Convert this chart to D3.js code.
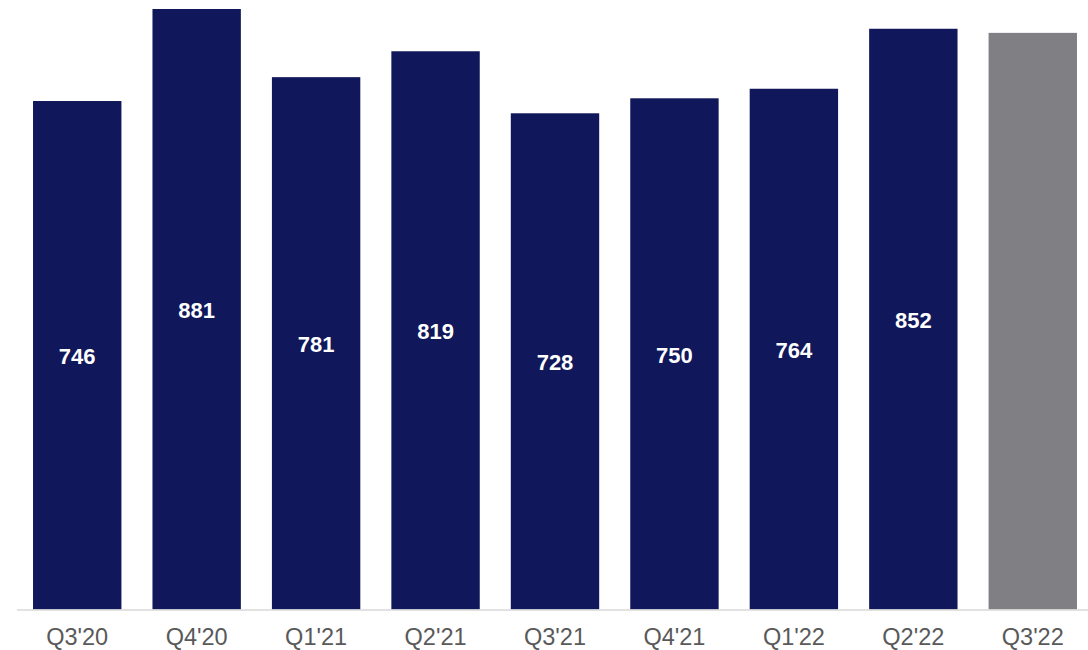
<!DOCTYPE html>
<html><head><meta charset="utf-8">
<script src="https://cdn.jsdelivr.net/npm/d3@7"></script>
<style>body{margin:0;background:#fff}svg{display:block}</style>
</head><body><svg id="c" width="1088" height="650"></svg>
<script>
const categories = ["Q3'20","Q4'20","Q1'21","Q2'21","Q3'21","Q4'21","Q1'22","Q2'22","Q3'22"];
const values = [746, 881, 781, 819, 728, 750, 764, 852, 846];
const showLabel = [true, true, true, true, true, true, true, true, false];
const colors = ["#10175a","#10175a","#10175a","#10175a","#10175a","#10175a","#10175a","#10175a","#808084"];

const svg = d3.select("#c");
const baseY = 609.5;
const x = d3.scaleBand().domain(categories).range([17.5, 1092.5]).paddingInner(0.26).paddingOuter(0.13);
const y = d3.scaleLinear().domain([0, 881]).range([baseY, 9]);

svg.selectAll("rect.bar").data(categories).join("rect")
  .attr("class","bar")
  .attr("x", d => x(d)).attr("width", x.bandwidth())
  .attr("y", (d,i) => y(values[i])).attr("height", (d,i) => baseY - y(values[i]))
  .attr("fill", (d,i) => colors[i]);

svg.append("line").attr("x1", 17).attr("x2", 1088).attr("y1", baseY+0.5).attr("y2", baseY+0.5)
  .attr("stroke", "#d9d9d9").attr("stroke-width", 1.5);

svg.selectAll("text.val").data(categories.filter((d,i)=>showLabel[i])).join("text")
  .attr("class","val")
  .attr("x", d => x(d) + x.bandwidth()/2)
  .attr("y", d => { const v = values[categories.indexOf(d)]; return (y(v) + baseY)/2 + 1; })
  .attr("dy", "0.35em")
  .attr("text-anchor","middle")
  .attr("font-family","Liberation Sans, Arial, sans-serif")
  .attr("font-weight","bold").attr("font-size", 22).attr("fill","#fff")
  .text(d => values[categories.indexOf(d)]);

svg.selectAll("text.cat").data(categories).join("text")
  .attr("class","cat")
  .attr("x", d => x(d) + x.bandwidth()/2)
  .attr("y", 645)
  .attr("text-anchor","middle")
  .attr("font-family","Liberation Sans, Arial, sans-serif")
  .attr("font-size", 23.5).attr("fill","#595959")
  .text(d => d);
</script></body></html>
